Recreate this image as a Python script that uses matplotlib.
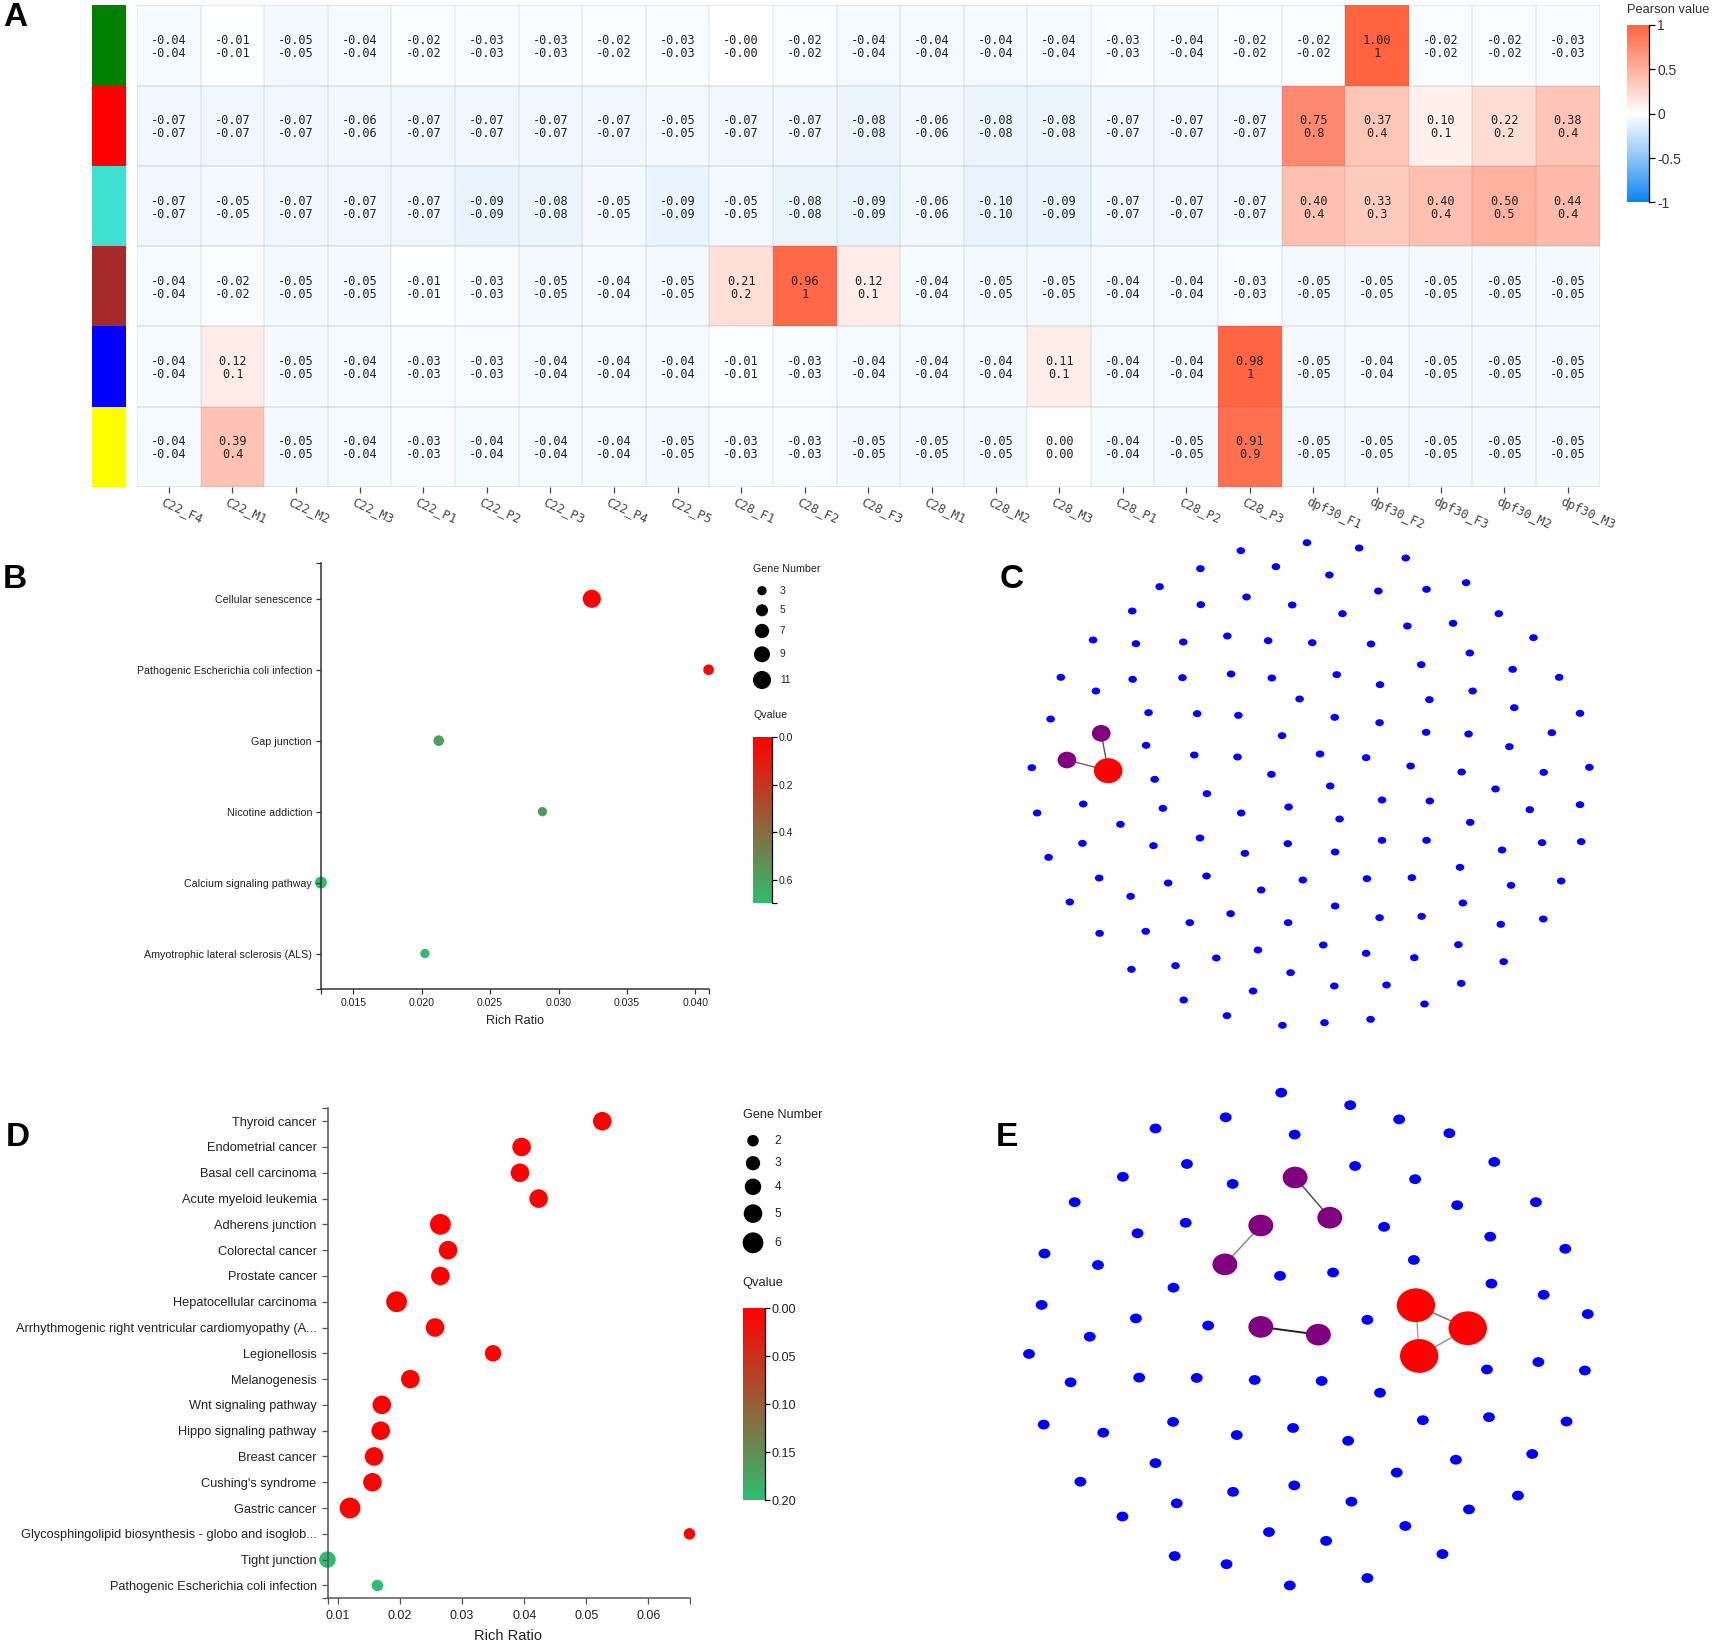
import matplotlib
matplotlib.use('Agg')
import matplotlib.pyplot as plt
import numpy as np
from matplotlib.colors import LinearSegmentedColormap
from matplotlib.patches import Ellipse
from matplotlib.transforms import ScaledTranslation

plt.rcParams['font.family'] = ['Liberation Sans', 'DejaVu Sans']

W, H = 1713, 1642

# panel A
sample_names = ['C22_F4', 'C22_M1', 'C22_M2', 'C22_M3', 'C22_P1', 'C22_P2', 'C22_P3', 'C22_P4', 'C22_P5',
                'C28_F1', 'C28_F2', 'C28_F3', 'C28_M1', 'C28_M2', 'C28_M3', 'C28_P1', 'C28_P2', 'C28_P3',
                'dpf30_F1', 'dpf30_F2', 'dpf30_F3', 'dpf30_M2', 'dpf30_M3']
module_colors = ['#008000', '#ff0000', '#40e0d0', '#a52a2a', '#0000ff', '#ffff00']
corr_green = [-0.04, -0.01, -0.05, -0.04, -0.02, -0.03, -0.03, -0.02, -0.03, -0.00, -0.02, -0.04,
              -0.04, -0.04, -0.04, -0.03, -0.04, -0.02, -0.02, 1.00, -0.02, -0.02, -0.03]
corr_red = [-0.07, -0.07, -0.07, -0.06, -0.07, -0.07, -0.07, -0.07, -0.05, -0.07, -0.07, -0.08,
            -0.06, -0.08, -0.08, -0.07, -0.07, -0.07, 0.75, 0.37, 0.10, 0.22, 0.38]
corr_turquoise = [-0.07, -0.05, -0.07, -0.07, -0.07, -0.09, -0.08, -0.05, -0.09, -0.05, -0.08, -0.09,
                  -0.06, -0.10, -0.09, -0.07, -0.07, -0.07, 0.40, 0.33, 0.40, 0.50, 0.44]
corr_brown = [-0.04, -0.02, -0.05, -0.05, -0.01, -0.03, -0.05, -0.04, -0.05, 0.21, 0.96, 0.12,
              -0.04, -0.05, -0.05, -0.04, -0.04, -0.03, -0.05, -0.05, -0.05, -0.05, -0.05]
corr_blue = [-0.04, 0.12, -0.05, -0.04, -0.03, -0.03, -0.04, -0.04, -0.04, -0.01, -0.03, -0.04,
             -0.04, -0.04, 0.11, -0.04, -0.04, 0.98, -0.05, -0.04, -0.05, -0.05, -0.05]
corr_yellow = [-0.04, 0.39, -0.05, -0.04, -0.03, -0.04, -0.04, -0.04, -0.05, -0.03, -0.03, -0.05,
               -0.05, -0.05, 0.00, -0.04, -0.05, 0.91, -0.05, -0.05, -0.05, -0.05, -0.05]

# panel B
b_terms = ['Cellular senescence', 'Pathogenic Escherichia coli infection', 'Gap junction',
           'Nicotine addiction', 'Calcium signaling pathway', 'Amyotrophic lateral sclerosis (ALS)']
b_ratio = [0.03243, 0.04096, 0.02125, 0.02882, 0.01264, 0.02024]
b_genes = [11, 4, 4, 3, 5, 3]
b_qvalue = [0.0, 0.01, 0.58, 0.57, 0.69, 0.69]
b_legend_genes = [3, 5, 7, 9, 11]
b_legend_diam = [9.3, 12, 14.3, 16, 18.1]

# panel D
d_terms = ['Thyroid cancer', 'Endometrial cancer', 'Basal cell carcinoma', 'Acute myeloid leukemia',
           'Adherens junction', 'Colorectal cancer', 'Prostate cancer', 'Hepatocellular carcinoma',
           'Arrhythmogenic right ventricular cardiomyopathy (A...', 'Legionellosis', 'Melanogenesis',
           'Wnt signaling pathway', 'Hippo signaling pathway', 'Breast cancer', "Cushing's syndrome",
           'Gastric cancer', 'Glycosphingolipid biosynthesis - globo and isoglob...', 'Tight junction',
           'Pathogenic Escherichia coli infection']
d_ratio = [0.05257, 0.03958, 0.03932, 0.04232, 0.0265, 0.02774, 0.0265, 0.01945, 0.02564, 0.03498,
           0.02166, 0.01707, 0.01689, 0.01582, 0.01556, 0.01195, 0.06662, 0.00831, 0.01636]
d_genes = [5, 5, 5, 5, 6, 5, 5, 6, 5, 4, 5, 5, 5, 5, 5, 6, 2, 4, 2]
d_qvalue = [0.0, 0.0, 0.0, 0.0, 0.0, 0.0, 0.0, 0.002, 0.0, 0.002, 0.002, 0.002, 0.002, 0.006, 0.006,
            0.006, 0.004, 0.2, 0.2]
d_legend_genes = [2, 3, 4, 5, 6]
d_legend_diam = [11.5, 14.3, 16.5, 18.6, 20.8]

c_blue_x = [801, 929, 1043, 639, 540, 725, 856, 1191, 1094, 976, 440, 653, 541, 765, 373, 888, 1271, 1159, 1047,
            1356, 277, 382, 498, 606, 706, 814, 958, 1200, 1081, 1305, 198, 374, 496, 615, 715, 874, 980, 1419,
            284, 1207, 783, 1101, 1309, 1470, 413, 532, 633, 869, 979, 173, 1093, 1197, 1401, 740, 407, 1297,
            525, 631, 833, 946, 1055, 1493, 127, 1180, 1381, 714, 428, 858, 1263, 556, 985, 1102, 253, 140, 448,
            756, 640, 1347, 1470, 881, 1201, 344, 985, 1094, 539, 1377, 1473, 251, 754, 425, 1279, 649, 870, 168,
            1176, 948, 1058, 555, 292, 461, 791, 1424, 1301, 689, 369, 220, 1183, 870, 1082, 979, 614, 1380, 514,
            755, 1276, 293, 406, 841, 1172, 681, 946, 579, 1064, 1283, 371, 479, 761, 868, 996, 1179, 669, 499,
            1089, 605, 741, 844, 957]
c_blue_y = [68, 84, 114, 92, 146, 140, 165, 188, 208, 213, 200, 231, 254, 255, 273, 281, 281, 310, 318,
            353, 360, 371, 366, 348, 362, 368, 372, 399, 434, 448, 472, 478, 473, 462, 474, 464, 494, 472,
            513, 513, 537, 539, 563, 580, 578, 581, 586, 592, 608, 597, 637, 642, 638, 647, 676, 680,
            705, 711, 702, 713, 738, 742, 743, 756, 757, 763, 778, 798, 807, 821, 840, 843, 852, 879, 865,
            861, 879, 869, 854, 897, 907, 913, 961, 961, 954, 968, 965, 970, 971, 977, 990, 1000, 996, 1012,
            1042, 1076, 1073, 1068, 1074, 1089, 1080, 1083, 1096, 1110, 1129, 1146, 1149, 1158, 1189, 1193, 1181,
            1197, 1208, 1208, 1213, 1240, 1234, 1275, 1274, 1290, 1300, 1314, 1313, 1325, 1348, 1337, 1358, 1398,
            1395, 1390, 1413, 1440, 1452, 1487, 1516, 1508, 1498]
c_purple_x = [297, 213]
c_purple_y = [640, 720]
c_red_x = [314]
c_red_y = [752]

# panel E network, same kind of crop (1568 wide, 1568 tall)
e_blue_x = [738, 907, 602, 1027, 430, 1150, 771, 507, 1260, 919, 350, 1066, 619, 232, 1362, 1169, 990, 504, 386,
            1250, 1434, 158, 289, 1063, 865, 735, 474, 1253, 1381, 151, 382, 1489, 949, 559, 269, 120, 1242, 1368,
            1482, 222, 390, 531, 673, 837, 980, 156, 302, 473, 629, 767, 902, 1085, 1247, 1437, 430, 1353, 1166,
            1021, 246, 620, 770, 910, 482, 1318, 1198, 349, 1042, 708, 848, 1133, 477, 604, 949, 759]
e_blue_y = [67, 104, 140, 146, 173, 187, 191, 278, 272, 284, 316, 323, 337, 391, 391, 400, 464, 452, 483,
            493, 529, 543, 577, 562, 599, 609, 644, 632, 665, 695, 735, 722, 739, 756, 789, 840, 886, 864,
            889, 924, 910, 911, 917, 920, 955, 1049, 1073, 1041, 1080, 1059, 1097, 1036, 1027, 1040, 1163, 1136, 1153,
            1191, 1218, 1248, 1229, 1277, 1282, 1259, 1300, 1321, 1349, 1367, 1393, 1432, 1438, 1462, 1503, 1525]
e_purple_x = [772, 857, 688, 600, 688, 829]
e_purple_y = [318, 437, 460, 575, 760, 783]
e_red_x = [1068, 1195, 1076]
e_red_y = [696, 764, 846]


def px_axes(x0, y0, x1, y1):
    """ Axes covering a rectangle given in image pixels (y going down). """
    return fig.add_axes([x0 / W, 1 - y1 / H, (x1 - x0) / W, (y1 - y0) / H])


def second_line(v):
    if v >= 0.095:
        return ('%.1f' % v).replace('.0', '')
    return '%.2f' % v


def diam_to_s(d):
    return (np.asarray(d) * 0.72) ** 2


def draw_heatmap():
    matrix = np.array([corr_green, corr_red, corr_turquoise, corr_brown, corr_blue, corr_yellow])
    nrow, ncol = matrix.shape

    strip = px_axes(91.6, 5.2, 125.6, 487)
    for i, c in enumerate(module_colors):
        strip.bar(0, 1, bottom=i, width=1, color=c)
    strip.set_xlim(-0.5, 0.5)
    strip.set_ylim(nrow, 0)
    strip.axis('off')

    ax = px_axes(137.1, 5.2, 1599.6, 487)
    ax.pcolormesh(np.arange(ncol + 1) - 0.5, np.arange(nrow + 1) - 0.5, matrix, cmap=heat_cmap, vmin=-1, vmax=1)
    ax.vlines(np.arange(ncol + 1) - 0.5, -0.5, nrow - 0.5, color=(0.4, 0.42, 0.48, 0.11), lw=1.1)
    ax.hlines(np.arange(nrow + 1) - 0.5, -0.5, ncol - 0.5, color=(0.4, 0.42, 0.48, 0.15), lw=1.3)
    ax.set_xlim(-0.5, ncol - 0.5)
    ax.set_ylim(nrow - 0.5, -0.5)
    for r in range(nrow):
        for c in range(ncol):
            v = matrix[r, c]
            ax.text(c, r + 0.02, '%.2f\n%s' % (v, second_line(v)), ha='center', va='center', fontsize=8.6,
                    family='DejaVu Sans Mono', color='#222222', linespacing=1.0)
    for s in ax.spines.values():
        s.set_visible(False)
    ax.set_yticks([])
    ax.set_xticks(np.arange(ncol))
    ax.set_xticklabels(sample_names, rotation=-25, ha='left', va='top', rotation_mode='anchor',
                       family='DejaVu Sans Mono', fontsize=8.8, color='#444444')
    ax.tick_params(axis='x', length=4.5, width=0.9, color='#444444', pad=1.5)
    offset = ScaledTranslation(-3 / 72, 0, fig.dpi_scale_trans)
    for lab in ax.get_xticklabels():
        lab.set_transform(lab.get_transform() + offset)

    # colour scale
    cb = px_axes(1626.6, 24.8, 1649, 202.5)
    vals = np.linspace(-1, 1, 256)
    cb.pcolormesh([0, 1], np.linspace(-1, 1, 257), vals[:, None], cmap=heat_cmap, vmin=-1, vmax=1)
    cb.set_xticks([])
    cb.yaxis.tick_right()
    cb.set_yticks([-1, -0.5, 0, 0.5, 1])
    cb.set_yticklabels(['-1', '-0.5', '0', '0.5', '1'], fontsize=10, color='#333333')
    cb.tick_params(axis='y', length=4.5, width=0.9, pad=1.5)
    for k, s in cb.spines.items():
        s.set_visible(k == 'right')
        s.set_linewidth(0.9)
    over.text(1626.6, 9.6, 'Pearson value', ha='left', va='center', fontsize=9.3, color='#333333')


def draw_dotplot(ax, terms, ratio, diam, qvalue, qmax, xlim, xticks, xfmt, sizes, ticklen, axcolor):
    label_size, tick_size = sizes
    y = np.arange(len(terms))
    ax.scatter(ratio, y, s=diam_to_s(diam), c=qvalue, cmap=q_cmap, vmin=0, vmax=qmax, linewidths=0,
               clip_on=False, zorder=1)
    ax.set_xlim(*xlim)
    ax.set_ylim(len(terms) - 0.5, -0.5)
    ax.set_yticks(y)
    ax.set_yticklabels(terms, fontsize=label_size, color='#222222')
    ax.set_xticks(xticks)
    ax.set_xticklabels([xfmt % t for t in xticks], fontsize=tick_size, color='#222222')
    ax.set_xticks(list(xlim), minor=True)
    ax.set_yticks([-0.5, len(terms) - 0.5], minor=True)
    ax.tick_params(axis='both', which='both', length=ticklen, width=0.9, color=axcolor, pad=ticklen / 1.3)
    for k in ['top', 'right']:
        ax.spines[k].set_visible(False)
    for k in ['left', 'bottom']:
        ax.spines[k].set_color(axcolor)
        ax.spines[k].set_linewidth(1.1)


def draw_legend(x_title, y_title, x_dot, x_lab, y_dots, genes, diams, fs):
    over.text(x_title, y_title, 'Gene Number', ha='left', va='center', fontsize=fs, color='#222222')
    over.scatter([x_dot] * len(genes), y_dots, s=diam_to_s(diams), c='black', linewidths=0)
    for yy, g in zip(y_dots, genes):
        over.text(x_lab, yy, str(g), ha='left', va='center', fontsize=fs * 0.95, color='#222222')


def draw_qbar(rect, qmax, ticks, fmt, x_title, y_title, fs):
    over.text(x_title, y_title, 'Qvalue', ha='left', va='center', fontsize=fs, color='#222222')
    cb = px_axes(*rect)
    vals = np.linspace(0, qmax, 256)
    cb.pcolormesh([0, 1], np.linspace(0, qmax, 257), vals[:, None], cmap=q_cmap, vmin=0, vmax=qmax)
    cb.set_ylim(qmax, 0)
    cb.set_xticks([])
    cb.yaxis.tick_right()
    cb.set_yticks(ticks)
    cb.set_yticklabels([fmt % t for t in ticks], fontsize=fs * 0.98, color='#222222')
    cb.set_yticks([qmax], minor=True)
    cb.tick_params(axis='y', which='both', length=3.5, width=0.9, pad=1.5)
    for k, s in cb.spines.items():
        s.set_visible(k == 'right')
        s.set_linewidth(0.9)


def draw_network(rect, crop_h, bx, by, bd, px, py, pd, rx, ry, rd, edges):
    """ Node coordinates are in the crop space of rect: 1568 wide, crop_h tall. """
    ax = px_axes(*rect)
    ax.set_xlim(0, 1568)
    ax.set_ylim(crop_h, 0)
    ax.axis('off')
    for (x0, y0, x1, y1, col, lw) in edges:
        ax.plot([x0, x1], [y0, y1], color=col, lw=lw, zorder=1)
    for xs, ys, d, col in [(bx, by, bd, '#0000ff'), (px, py, pd, '#800080'), (rx, ry, rd, '#ff0000')]:
        for x, y in zip(xs, ys):
            ax.add_patch(Ellipse((x, y), d[0], d[1], color=col, lw=0, zorder=2))


fig = plt.figure(figsize=(W / 100, H / 100), dpi=100)
over = fig.add_axes([0, 0, 1, 1], zorder=10)
over.set_xlim(0, W)
over.set_ylim(H, 0)
over.axis('off')

heat_cmap = LinearSegmentedColormap.from_list('heat', [(0, '#0a84f2'), (0.25, '#8cc4f8'), (0.5, '#ffffff'), (1, '#ff633f')])
q_cmap = LinearSegmentedColormap.from_list('q', ['#ff0000', '#2dbd70'])

draw_heatmap()

# B
ax_b = px_axes(320.9, 563.3, 709, 989)
draw_dotplot(ax_b, b_terms, b_ratio, np.interp(b_genes, b_legend_genes, b_legend_diam),
             b_qvalue, 0.698, (0.01264, 0.04099), [0.015, 0.020, 0.025, 0.030, 0.035, 0.040], '%.3f',
             (7.7, 7.6), 3.6, '#333333')
over.text(515, 1021.3, 'Rich Ratio', ha='center', va='center', fontsize=9, color='#222222')
draw_legend(753, 568.7, 762, 780, [590.7, 610.3, 631, 654.3, 680], b_legend_genes, b_legend_diam, 7.7)
draw_qbar((753, 737, 771.7, 903.3), 0.698, [0.0, 0.2, 0.4, 0.6], '%.1f', 753, 714.7, 7.7)

# D
ax_d = px_axes(328, 1108.3, 690, 1598.3)
draw_dotplot(ax_d, d_terms, d_ratio, np.interp(d_genes, d_legend_genes, d_legend_diam),
             d_qvalue, 0.2, (0.0084, 0.0667), [0.01, 0.02, 0.03, 0.04, 0.05, 0.06], '%.2f',
             (9.2, 9), 4.6, '#555555')
over.text(508, 1635.6, 'Rich Ratio', ha='center', va='center', fontsize=10.5, color='#222222')
draw_legend(742.7, 1114.6, 753, 774.5, [1140.7, 1163.2, 1186.8, 1213.6, 1242.8], d_legend_genes, d_legend_diam, 9.1)
draw_qbar((742.7, 1308.2, 764.6, 1500), 0.2, [0.0, 0.05, 0.10, 0.15, 0.20], '%.2f', 742.7, 1283, 9.3)

# C
c_edges = [(c_purple_x[0], c_purple_y[0], c_red_x[0], c_red_y[0], '#555555', 1.0),
           (c_purple_x[1], c_purple_y[1], c_red_x[0], c_red_y[0], '#666666', 1.0)]
draw_network((980, 520, 1620, 1040), 1560, c_blue_x, c_blue_y, (21, 21), c_purple_x, c_purple_y, (46, 50),
             c_red_x, c_red_y, (70, 75), c_edges)

# E
e_edges = [(e_purple_x[0], e_purple_y[0], e_purple_x[1], e_purple_y[1], '#555555', 1.1),
           (e_purple_x[2], e_purple_y[2], e_purple_x[3], e_purple_y[3], '#888888', 1.1),
           (e_purple_x[4], e_purple_y[4], e_purple_x[5], e_purple_y[5], '#222222', 1.4),
           (e_red_x[0], e_red_y[0], e_red_x[1], e_red_y[1], '#777777', 1.1),
           (e_red_x[0], e_red_y[0], e_red_x[2], e_red_y[2], '#aaaaaa', 1.1),
           (e_red_x[1], e_red_y[1], e_red_x[2], e_red_y[2], '#999999', 1.1)]
draw_network((980, 1070, 1620, 1600), 1568, e_blue_x, e_blue_y, (29, 29), e_purple_x, e_purple_y, (61, 64),
             e_red_x, e_red_y, (94, 100), e_edges)

for letter, x, y in [('A', 3, 18), ('B', 3, 580), ('C', 1000, 580), ('D', 6, 1137), ('E', 996, 1137)]:
    over.text(x, y, letter, ha='left', va='center', fontsize=24, fontweight='bold', color='black')

fig.savefig('out.png', dpi=100)
